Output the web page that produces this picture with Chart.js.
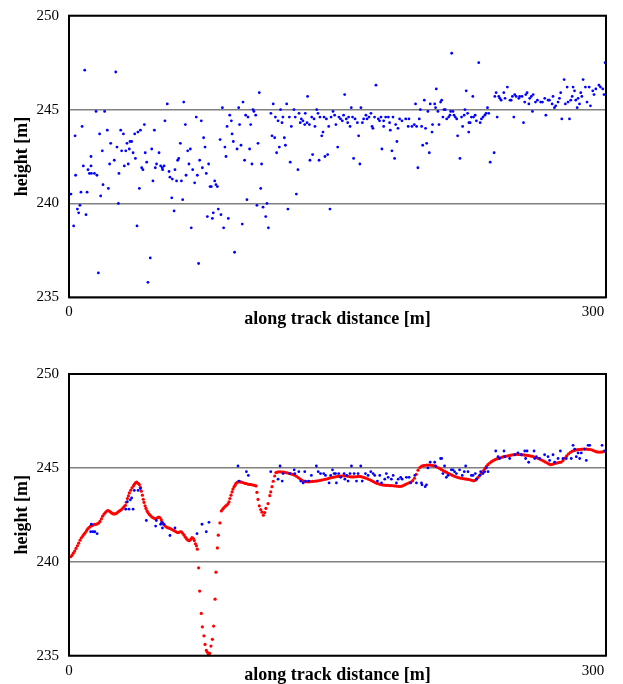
<!DOCTYPE html>
<html>
<head>
<meta charset="utf-8">
<script src="https://cdn.jsdelivr.net/npm/chart.js@4.4.1/dist/chart.umd.min.js"></script>
<style>
  body { margin: 0; background: #fff; }
  canvas { position: absolute; left: 0; }
  #top { top: 0; }
  #bottom { top: 342px; }
</style>
</head>
<body>
<canvas id="top" width="623" height="342"></canvas>
<canvas id="bottom" width="623" height="342"></canvas>
<script>
// all laser returns, [distance m, height m]
const rawPoints = [
  [8.8,247.1],[26.1,247.0],[54.9,245.3],[64.1,245.4],[15.1,244.9],[19.9,244.9],[71.1,244.6],[53.6,244.4],[7.3,244.1],[65.0,244.2],
  [42.1,244.2],[28.9,243.9],[39.9,243.9],[21.4,243.9],[47.7,243.9],[38.5,243.8],[36.7,243.7],[17.1,243.7],[30.4,243.7],[3.4,243.6],
  [23.3,243.2],[35.0,243.3],[34.1,243.3],[32.4,243.2],[62.2,243.2],[26.8,243.0],[33.7,242.9],[67.8,242.9],[46.2,242.9],[18.6,242.8],
  [29.4,242.8],[31.7,242.8],[35.8,242.7],[50.3,242.7],[66.3,242.8],[42.6,242.7],[37.1,242.4],[61.3,242.4],[60.7,242.3],[25.3,242.3],
  [12.3,242.5],[43.4,242.2],[22.7,242.1],[33.1,242.1],[30.9,242.0],[40.6,241.9],[41.3,241.8],[48.9,242.1],[51.2,242.0],[53.1,242.0],
  [52.1,241.9],[67.0,242.1],[8.0,242.0],[12.3,242.0],[48.2,241.9],[10.6,241.8],[11.4,241.6],[12.5,241.6],[14.2,241.6],[15.6,241.5],
  [52.3,241.8],[55.9,241.7],[59.2,241.8],[27.9,241.6],[3.7,241.5],[56.4,241.4],[57.7,241.3],[60.1,241.2],[62.8,241.2],[65.4,241.5],
  [69.1,241.8],[71.7,241.5],[70.2,241.1],[46.9,241.2],[19.0,241.0],[22.0,240.8],[39.3,240.8],[6.7,240.6],[10.1,240.6],[17.7,240.4],
  [1.1,240.5],[57.4,240.3],[63.5,240.2],[27.6,240.0],[6.1,239.9],[4.7,239.7],[5.4,239.5],[9.5,239.4],[58.7,239.6],[2.6,238.8],
  [38.0,238.8],[68.3,238.7],[45.4,237.1],[72.4,236.8],[16.4,236.3],[44.1,235.8],
  [106.3,245.9],[133.3,245.7],[97.2,245.4],[114.1,245.3],[121.6,245.3],[85.7,245.1],[94.8,245.1],[118.2,245.0],[102.8,245.0],[103.3,244.9],
  [104.3,244.7],[98.7,244.7],[112.8,244.8],[125.7,245.0],[128.5,244.8],[132.0,244.8],[138.4,245.0],[139.1,244.8],[147.5,244.9],[89.8,244.7],
  [100.0,244.6],[115.3,244.6],[119.5,244.6],[123.1,244.6],[126.4,244.6],[129.8,244.5],[130.7,244.4],[135.6,244.6],[136.9,244.5],[140.2,244.6],
  [142.5,244.6],[143.8,244.5],[146.4,244.6],[73.9,244.4],[90.7,244.4],[116.8,244.4],[119.0,244.3],[129.2,244.3],[131.7,244.2],[133.0,244.3],
  [134.3,244.2],[95.3,244.2],[101.5,244.2],[88.3,244.1],[124.2,244.1],[137.4,244.1],[145.1,244.1],[141.9,243.8],[141.2,243.6],[91.1,243.7],
  [113.4,243.6],[114.9,243.5],[120.3,243.5],[75.2,243.5],[84.4,243.4],[91.8,243.3],[105.6,243.2],[96.1,243.1],[76.0,243.0],[87.1,243.0],
  [117.5,243.0],[120.9,243.1],[93.9,242.9],[100.9,242.9],[116.0,242.7],[136.1,242.6],[143.0,242.5],[144.5,242.6],[87.7,242.5],[73.0,242.3],
  [98.1,242.3],[134.6,242.3],[139.7,242.3],[123.6,242.2],[102.2,242.1],[107.6,242.1],[78.0,242.1],[74.5,241.9],[127.9,241.8],[76.7,241.6],
  [81.4,241.2],[82.1,241.0],[78.8,240.9],[79.5,240.9],[82.9,240.9],[107.1,240.8],[127.0,240.5],[99.4,240.2],[105.0,239.9],[110.6,240.0],
  [108.4,239.8],[83.4,239.7],[122.3,239.7],[145.8,239.7],[80.6,239.5],[84.9,239.4],[77.3,239.3],[80.1,239.2],[89.0,239.2],[109.9,239.3],
  [96.8,238.9],[86.4,238.7],[111.4,238.7],[92.5,237.4],
  [213.8,248.0],[171.5,246.3],[154.0,245.8],[205.2,246.1],[221.9,246.0],[207.6,245.4],[208.2,245.5],[193.6,245.3],[198.5,245.5],[201.8,245.3],
  [204.3,245.3],[204.8,245.1],[157.7,245.1],[163.1,245.1],[196.3,245.0],[200.5,244.9],[206.1,244.9],[209.5,245.0],[210.2,245.0],[213.2,244.9],
  [214.5,244.9],[221.2,245.0],[148.4,244.7],[150.8,244.6],[151.7,244.5],[152.7,244.4],[153.4,244.7],[154.9,244.5],[156.2,244.6],[158.4,244.6],
  [159.8,244.5],[155.7,244.3],[161.1,244.3],[163.9,244.3],[164.6,244.5],[165.9,244.7],[166.5,244.5],[167.6,244.6],[168.7,244.8],[170.7,244.6],
  [172.8,244.5],[173.5,244.4],[174.3,244.6],[175.8,244.4],[176.9,244.6],[178.4,244.6],[179.1,244.3],[181.0,244.6],[182.5,244.2],[184.7,244.5],
  [186.0,244.4],[188.1,244.5],[189.9,244.5],[149.1,244.2],[157.0,244.1],[169.3,244.1],[169.8,244.0],[175.8,244.1],[179.5,243.9],[183.8,244.0],
  [189.5,244.1],[191.6,244.1],[192.9,244.2],[194.2,244.1],[195.7,244.5],[197.0,244.1],[199.2,244.0],[202.8,243.8],[203.1,244.2],[206.7,244.2],
  [208.9,244.6],[211.0,244.5],[212.1,244.6],[212.8,244.7],[215.1,244.7],[215.8,244.6],[216.6,244.5],[219.3,244.6],[220.8,244.7],[222.7,244.8],
  [219.9,244.1],[223.4,244.3],[223.3,243.8],[217.1,243.6],[150.1,243.0],[161.8,243.6],[183.2,243.3],[197.6,243.1],[199.8,243.2],[201.3,242.7],
  [174.8,242.9],[180.4,242.8],[159.0,242.4],[181.9,242.4],[218.4,242.4],[162.5,242.1],[194.9,241.9],
  [228.9,247.5],[299.5,247.5],[287.2,246.6],[276.6,246.6],[244.9,246.2],[225.6,245.7],[238.6,245.9],[237.9,245.7],[240.1,245.7],[240.7,245.6],
  [241.4,245.5],[242.9,245.9],[243.6,245.6],[246.4,245.5],[247.0,245.5],[247.7,245.7],[249.0,245.8],[249.8,245.7],[251.3,245.6],[251.8,245.7],
  [253.1,245.7],[254.6,245.4],[255.2,245.8],[255.9,245.9],[256.9,245.3],[257.4,245.6],[258.3,245.7],[259.3,245.8],[260.6,245.4],[261.7,245.5],
  [263.5,245.4],[264.5,245.4],[265.8,245.6],[267.7,245.5],[268.4,245.5],[269.9,245.3],[270.4,245.7],[271.2,245.1],[271.9,245.2],[273.2,245.4],
  [274.0,245.6],[274.7,245.9],[277.3,245.3],[278.3,246.2],[278.8,245.4],[280.3,245.5],[281.1,245.7],[281.6,246.2],[282.4,246.0],[283.1,245.5],
  [283.9,245.1],[284.4,245.6],[285.2,245.3],[285.9,245.9],[286.5,245.7],[288.5,246.2],[289.4,245.4],[290.6,246.2],[291.3,245.2],[292.6,246.0],
  [293.3,245.8],[294.3,246.1],[296.1,246.3],[296.9,246.2],[298.2,246.1],[298.9,245.8],[224.1,244.3],[224.8,244.6],[226.0,244.6],[226.9,244.7],
  [227.6,244.4],[229.7,244.3],[230.4,244.5],[231.3,244.6],[232.3,244.7],[233.0,244.8],[233.8,245.1],[234.5,244.8],[239.2,244.6],[248.5,244.6],
  [253.9,244.3],[258.9,244.9],[266.4,244.7],[275.3,244.5],[279.6,244.5],[237.5,242.7],[235.3,242.2]
];

// returns kept after filtering
const keptPoints = [
  [12.5,242.0],[12.1,241.6],[13.4,241.6],[14.4,241.6],[15.7,241.5],[31.7,242.8],[33.5,242.8],[35.8,242.8],[32.6,243.2],[34.3,243.3],
  [35.0,243.4],[36.5,243.8],[38.6,243.8],[39.9,243.9],[43.2,242.2],[48.4,241.9],[48.8,242.2],[51.2,242.0],[51.8,242.1],[52.9,242.0],
  [52.2,241.8],[56.4,241.4],[59.2,241.8],[71.5,241.5],[74.3,242.0],[76.7,241.6],[78.2,242.1],[94.4,245.1],[99.1,244.8],[100.2,244.6],
  [95.0,244.3],[112.7,244.8],[117.9,245.1],[116.8,244.4],[119.1,244.3],[119.6,244.7],[123.3,244.7],[125.8,244.9],[126.1,244.7],[128.4,244.8],
  [129.5,244.3],[130.8,244.2],[131.7,244.8],[132.1,244.3],[133.9,244.3],[135.4,244.6],[138.2,245.1],[139.2,244.8],[140.5,244.7],[142.3,244.7],
  [143.3,244.6],[145.3,244.2],[146.2,244.6],[147.2,244.9],[148.1,244.7],[148.9,244.7],[149.4,244.2],[150.7,244.7],[151.8,244.5],[153.7,244.7],
  [154.1,244.4],[155.2,244.6],[155.9,244.3],[157.0,244.7],[157.8,245.1],[159.3,244.7],[160.6,244.3],[161.5,244.7],[163.0,245.1],[163.8,244.3],
  [165.6,244.7],[167.1,244.6],[168.6,244.8],[169.9,244.7],[170.8,244.6],[172.3,244.3],[173.6,244.6],[174.6,244.2],[176.4,244.4],[177.3,244.7],
  [178.3,244.5],[180.1,244.4],[181.1,244.6],[182.9,244.2],[183.9,244.4],[185.3,244.5],[186.1,244.4],[188.5,244.5],[190.0,244.5],[190.8,244.2],
  [193.2,244.6],[194.1,244.2],[196.9,244.2],[199.7,244.1],[197.2,244.1],[199.0,244.0],[200.5,245.0],[201.8,245.3],[204.3,245.3],[204.8,245.1],
  [207.6,245.5],[208.2,245.5],[208.9,244.7],[209.8,245.1],[210.8,244.5],[211.7,244.6],[213.6,244.9],[214.5,244.9],[215.4,244.8],[216.4,244.7],
  [218.2,244.9],[219.7,244.6],[220.8,244.8],[221.6,245.1],[222.9,244.8],[224.8,244.6],[225.7,244.6],[227.0,244.7],[227.6,244.4],[229.4,244.6],
  [230.0,244.8],[231.3,244.7],[232.2,244.8],[233.1,245.0],[234.1,244.8],[238.4,245.9],[239.7,245.6],[240.6,245.5],[243.0,245.9],[243.4,245.6],
  [246.2,245.5],[249.0,245.7],[250.8,245.8],[252.7,245.7],[254.6,245.9],[255.1,245.5],[255.9,245.9],[256.8,245.3],[259.8,245.9],[260.2,245.5],
  [261.1,245.6],[262.9,245.5],[265.7,245.7],[267.6,245.6],[268.5,245.4],[270.4,245.7],[271.3,245.3],[273.2,245.5],[274.5,245.9],[276.0,245.5],
  [277.8,245.5],[280.6,245.5],[281.6,246.2],[282.5,246.0],[283.4,245.6],[284.4,245.8],[285.3,245.5],[286.2,245.8],[288.1,246.0],[289.0,245.4],
  [290.0,246.2],[290.9,246.2],[297.8,246.2],[299.3,245.9]
];

// smoothed surface
const smoothPoints = [
  [1.0,240.27],[1.7,240.35],[2.4,240.46],[3.2,240.57],[3.9,240.71],[4.7,240.85],[5.4,240.99],[6.2,241.15],[6.9,241.28],[7.7,241.38],
  [8.4,241.47],[9.1,241.56],[9.9,241.67],[10.6,241.77],[11.4,241.84],[12.1,241.90],[12.9,241.93],[13.6,241.97],[14.4,241.99],[15.1,242.00],
  [15.8,242.02],[16.6,242.06],[17.3,242.15],[18.1,242.29],[18.8,242.43],[19.6,242.54],[20.3,242.62],[21.1,242.70],[21.8,242.73],[22.5,242.70],
  [23.3,242.64],[24.0,242.59],[24.8,242.55],[25.5,242.55],[26.3,242.57],[27.0,242.62],[27.8,242.68],[28.5,242.73],[29.3,242.78],[30.0,242.85],
  [30.7,242.93],[31.5,243.01],[32.0,243.17],[32.6,243.37],[33.2,243.51],[33.7,243.67],[34.5,243.81],[35.2,243.94],[36.0,244.04],[36.5,244.13],
  [37.1,244.20],[37.8,244.24],[38.6,244.18],[39.3,244.11],[39.9,243.97],[40.4,243.76],[41.0,243.55],[41.5,243.33],[41.9,243.16],[42.5,242.98],
  [43.0,242.84],[43.6,242.71],[44.1,242.62],[44.9,242.52],[45.6,242.45],[46.4,242.38],[47.1,242.34],[47.9,242.30],[48.6,242.30],[49.4,242.34],
  [50.1,242.38],[50.9,242.34],[51.6,242.23],[52.3,242.09],[53.1,241.99],[53.8,241.90],[54.6,241.84],[55.3,241.81],[56.1,241.79],[56.8,241.76],
  [57.5,241.72],[58.3,241.68],[59.0,241.65],[59.8,241.60],[60.5,241.56],[61.3,241.56],[62.0,241.60],[62.8,241.60],[63.5,241.52],[64.3,241.42],
  [65.0,241.31],[65.7,241.22],[66.5,241.15],[67.2,241.12],[68.0,241.19],[68.7,241.29],[69.5,241.24],[70.0,241.13],[70.6,240.96],[71.2,240.85],
  [71.7,240.67],[72.4,239.68],[73.0,238.44],[73.9,237.25],[74.5,236.54],[75.4,236.06],[76.0,235.60],[76.7,235.28],[77.3,235.18],[78.0,235.06],
  [78.6,235.12],[79.3,235.51],[80.1,235.87],[80.8,236.58],[81.6,238.01],[82.1,239.45],[82.9,240.74],[83.4,241.42],[84.3,242.07],[85.1,242.71],
  [85.9,242.80],[86.6,242.89],[87.4,242.96],[88.1,243.01],[88.8,243.09],[89.4,243.19],[89.9,243.37],[90.5,243.55],[91.1,243.72],[91.6,243.87],
  [92.2,243.99],[92.8,244.08],[93.3,244.18],[94.1,244.24],[94.8,244.26],[95.6,244.26],[96.3,244.24],[97.2,244.22],[98.2,244.18],[99.1,244.17],
  [100.0,244.13],[100.9,244.12],[101.8,244.11],[102.7,244.09],[103.6,244.07],[104.5,244.04],[105.0,243.70],[105.6,243.32],[106.3,242.98],[107.1,242.78],
  [107.8,242.64],[108.6,242.48],[109.3,242.62],[110.0,242.84],[111.2,243.10],[112.2,243.52],[112.7,243.72],[113.4,244.00],[114.1,244.29],[114.9,244.57],
  [115.6,244.75],[116.4,244.78],[117.3,244.79],[118.2,244.79],[119.1,244.78],[120.0,244.77],[121.0,244.75],[122.0,244.73],[123.0,244.71],[124.0,244.68],
  [125.0,244.65],[126.0,244.61],[127.0,244.56],[128.0,244.49],[129.0,244.42],[130.0,244.35],[131.0,244.30],[132.0,244.27],[133.0,244.26],[134.0,244.26],
  [135.0,244.27],[136.0,244.28],[137.0,244.29],[138.0,244.30],[139.0,244.31],[140.0,244.33],[141.0,244.35],[142.0,244.37],[143.0,244.39],[144.0,244.41],
  [145.0,244.44],[146.0,244.47],[147.0,244.49],[148.0,244.51],[149.0,244.53],[150.0,244.55],[151.0,244.56],[152.0,244.57],[153.0,244.58],[154.0,244.58],
  [155.0,244.57],[156.0,244.55],[157.0,244.53],[158.0,244.52],[159.0,244.52],[160.0,244.53],[161.0,244.54],[162.0,244.55],[163.0,244.54],[164.0,244.51],
  [165.0,244.48],[166.0,244.45],[167.0,244.41],[168.0,244.37],[169.0,244.32],[170.0,244.27],[171.0,244.22],[172.0,244.18],[173.0,244.15],[174.0,244.12],
  [175.0,244.10],[176.0,244.08],[177.0,244.07],[178.0,244.07],[179.0,244.06],[180.0,244.06],[181.0,244.05],[182.0,244.04],[183.0,244.03],[184.0,244.02],
  [185.0,244.01],[186.0,244.03],[187.0,244.07],[188.0,244.12],[189.0,244.17],[190.0,244.21],[191.0,244.25],[192.0,244.32],[193.0,244.45],[194.0,244.66],
  [195.0,244.88],[196.0,245.02],[197.0,245.09],[198.0,245.12],[199.0,245.14],[200.0,245.15],[201.0,245.15],[202.0,245.14],[203.0,245.13],[204.0,245.11],
  [205.0,245.07],[206.0,245.02],[207.0,244.97],[208.0,244.92],[209.0,244.86],[210.0,244.81],[211.0,244.76],[212.0,244.71],[213.0,244.66],[214.0,244.61],
  [215.0,244.57],[216.0,244.53],[217.0,244.50],[218.0,244.47],[219.0,244.45],[220.0,244.43],[221.0,244.42],[222.0,244.40],[223.0,244.39],[224.0,244.37],
  [225.0,244.34],[226.0,244.31],[226.8,244.33],[227.6,244.40],[228.4,244.48],[229.2,244.57],[230.0,244.66],[230.8,244.75],[231.6,244.86],[232.4,244.97],
  [233.2,245.08],[234.0,245.17],[235.0,245.26],[236.0,245.33],[237.0,245.39],[238.0,245.44],[239.0,245.48],[240.0,245.51],[241.0,245.54],[242.0,245.57],
  [243.0,245.60],[244.0,245.62],[245.0,245.64],[246.0,245.66],[247.0,245.68],[248.0,245.70],[249.0,245.71],[250.0,245.72],[251.0,245.72],[252.0,245.71],
  [253.0,245.70],[254.0,245.69],[255.0,245.68],[256.0,245.67],[257.0,245.65],[258.0,245.63],[259.0,245.61],[260.0,245.58],[261.0,245.55],[262.0,245.51],
  [263.0,245.47],[264.0,245.42],[265.0,245.37],[266.0,245.32],[267.0,245.27],[268.0,245.21],[269.0,245.17],[270.0,245.19],[271.0,245.22],[272.0,245.25],
  [273.0,245.27],[274.0,245.29],[275.0,245.31],[276.0,245.40],[277.0,245.52],[278.0,245.64],[279.0,245.74],[280.0,245.82],[281.0,245.88],[282.0,245.92],
  [283.0,245.95],[284.0,245.97],[285.0,245.98],[286.0,245.99],[287.0,246.00],[288.0,246.00],[289.0,246.00],[290.0,245.99],[291.0,245.98],[292.0,245.96],
  [293.0,245.92],[294.0,245.88],[295.0,245.85],[296.0,245.84],[297.0,245.84],[298.0,245.85],[299.0,245.88],[300.0,245.88]
];

const distanceTicks = [0, 300];
const heightTicks = [235, 240, 245, 250];

const serif = "'Liberation Serif', 'Times New Roman', serif";
const toXY = pts => pts.map(([x, y]) => ({ x, y }));

const framePlugin = {
  id: "frame",
  afterDatasetsDraw(chart) {
    const { ctx, chartArea: a } = chart;
    ctx.save();
    ctx.strokeStyle = "#000";
    ctx.lineWidth = 2;
    ctx.strokeRect(a.left, a.top, a.right - a.left, a.bottom - a.top);
    ctx.restore();
  },
};

function dots(points, color, radius) {
  return {
    data: toXY(points),
    pointRadius: radius,
    pointHoverRadius: radius,
    pointBackgroundColor: color,
    pointBorderWidth: 0,
    showLine: false,
  };
}

function makeChart(id, datasets, padTop, xHeight, titleBottom) {
  return new Chart(document.getElementById(id), {
    type: "scatter",
    data: { datasets },
    options: {
      responsive: false,
      animation: false,
      devicePixelRatio: 1,
      layout: { padding: { top: padTop, right: 17, left: 0, bottom: 0 } },
      plugins: { legend: { display: false }, tooltip: { enabled: false } },
      scales: {
        x: {
          type: "linear",
          min: 0,
          max: 300,
          afterBuildTicks: (s) => { s.ticks = distanceTicks.map((v) => ({ value: v })); },
          afterFit: (s) => {
            s.height = xHeight;
            s.paddingLeft = 0;
            s.paddingRight = 0;
          },
          grid: { display: false, drawTicks: false },
          border: { display: false },
          ticks: {
            padding: 6,
            color: "#000",
            maxRotation: 0,
            autoSkip: false,
            font: { family: serif, size: 15 },
            callback: (v) => (v === 300 ? "300       " : String(v)),
          },
          title: {
            display: true,
            text: "along track distance [m]",
            color: "#000",
            font: { family: serif, size: 18, weight: "bold", lineHeight: 1 },
            padding: { top: 0, bottom: titleBottom },
          },
        },
        y: {
          min: 235,
          max: 250,
          afterBuildTicks: (s) => { s.ticks = heightTicks.map((v) => ({ value: v })); },
          afterFit: (s) => {
            s.width = 69;
            s.paddingTop = 0;
            s.paddingBottom = 0;
          },
          grid: { color: "#808080", lineWidth: 1.5, drawTicks: false },
          border: { display: false },
          ticks: { padding: 10, color: "#000", font: { family: serif, size: 15 } },
          title: {
            display: true,
            text: "height [m]",
            color: "#000",
            font: { family: serif, size: 18, weight: "bold", lineHeight: 1 },
            padding: { top: 13, bottom: 0 },
          },
        },
      },
    },
    plugins: [framePlugin],
  });
}

makeChart("top", [dots(rawPoints, "#0000ff", 1.4)], 15.7, 44.7, 14);
makeChart("bottom", [dots(keptPoints, "#0000ff", 1.4), dots(smoothPoints, "#ff0000", 1.6)], 32, 28.3, 0);
</script>
</body>
</html>
